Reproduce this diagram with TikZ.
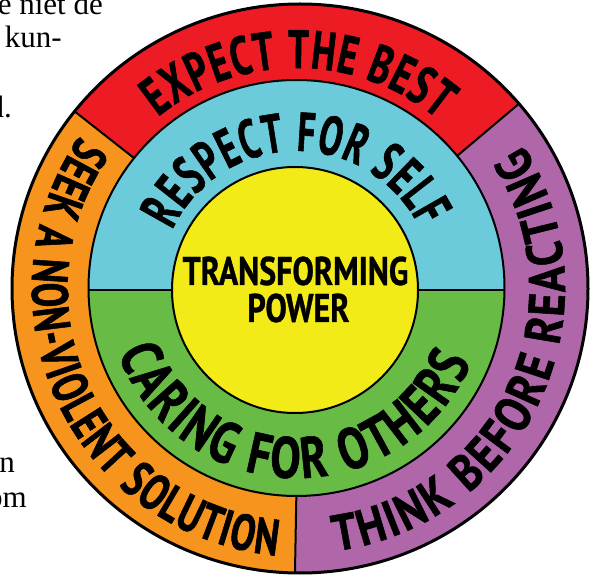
\documentclass[tikz,border=0pt]{standalone}
\usepackage{fontspec}
\setmainfont{Liberation Serif}
\usetikzlibrary{decorations.text}
\newfontfamily\ringA{PT Sans Bold}[FakeStretch=0.68,FakeBold=1]
\newfontfamily\ringB{PT Sans Bold}[FakeStretch=0.64,FakeBold=1]
\newfontfamily\ringC{PT Sans Bold}[FakeStretch=0.78,FakeBold=1]
\newfontfamily\ringD{PT Sans Bold}[FakeStretch=0.72,FakeBold=1]
\newfontfamily\ringE{PT Sans Bold}[FakeStretch=0.85,FakeBold=1]
\newfontfamily\centerfont{PT Sans Bold}[FakeStretch=0.8,FakeBold=0.8]
\definecolor{ringred}{RGB}{237,28,36}
\definecolor{ringorange}{RGB}{247,148,29}
\definecolor{ringpurple}{RGB}{176,103,170}
\definecolor{ringblue}{RGB}{108,203,218}
\definecolor{ringgreen}{RGB}{104,188,70}
\definecolor{ringyellow}{RGB}{243,235,23}
\tikzset{
  outerline/.style={line width=3pt, draw=black},
  innerline/.style={line width=2pt, draw=black},
  ringtext/.style={decorate, decoration={text along path, text align={fit to path}, text={#1}}},
  fragment/.style={anchor=base east, inner sep=0pt, font=\fontsize{31}{31}\selectfont},
  centertext/.style={anchor=base, inner sep=0pt, font=\centerfont\fontsize{40}{40}\selectfont}
}
\begin{document}
\begin{tikzpicture}[x=1pt,y=1pt]
\useasboundingbox (0,0) rectangle (595,579);
\clip (0,0) rectangle (595,579);
\coordinate (O) at (300,290.5);
\coordinate (M) at (296.5,291);
\coordinate (Y) at (295,289);
% outer ring sectors
\fill[ringorange] (O) ellipse[x radius=288, y radius=284.5];
\fill[ringred] (O) -- ([shift={(40.5:288 and 284.5)}]O) arc[start angle=40.5, end angle=141.5, x radius=288, y radius=284.5] -- cycle;
\fill[ringpurple] (O) -- ([shift={(-91:288 and 284.5)}]O) arc[start angle=-91, end angle=40.5, x radius=288, y radius=284.5] -- cycle;
\coordinate (d1) at ([shift={(141.5:288 and 284.5)}]O);
\coordinate (d2) at ([shift={(40.5:288 and 284.5)}]O);
\coordinate (d3) at ([shift={(-91:288 and 284.5)}]O);
\draw[innerline] (O) -- (d1);
\draw[innerline] (O) -- (d2);
\draw[innerline] (O) -- (d3);
\draw[outerline] (O) ellipse[x radius=288, y radius=284.5];
% middle ring
\fill[ringblue] (M) circle[radius=208];
\begin{scope}
  \clip (0,0) rectangle (595,289);
  \fill[ringgreen] (M) circle[radius=208];
\end{scope}
\coordinate (hl) at (88.5,289);
\coordinate (hr) at (504.5,289);
\draw[innerline] (hl) -- (hr);
\draw[innerline] (M) circle[radius=208];
% centre
\filldraw[innerline, fill=ringyellow] (Y) circle[radius=123];
% ring texts
\path[ringtext={|\ringA\fontsize{54}{54}\selectfont|EXPECT THE BEST}]
  ([shift={(129:220)}]M) arc[start angle=129, end angle=50, radius=220];
\path[ringtext={|\ringB\fontsize{55}{55}\selectfont|RESPECT FOR SELF}]
  ([shift={(155:137)}]M) arc[start angle=155, end angle=26, radius=137];
\path[ringtext={|\ringC\fontsize{58}{58}\selectfont|CARING FOR OTHERS}]
  ([shift={(200:190)}]M) arc[start angle=200, end angle=337, radius=190];
\path[ringtext={|\ringD\fontsize{51}{51}\selectfont|SEEK A NON-VIOLENT SOLUTION}]
  ([shift={(145.3:268)}]O) arc[start angle=145.3, end angle=265, radius=268];
\path[ringtext={|\ringE\fontsize{51}{51}\selectfont|THINK BEFORE REACTING}]
  ([shift={(277.7:265)}]O) arc[start angle=277.7, end angle=392.7, radius=265];
% centre text
\node[centertext] (tp1) at (295.5,294) {TRANSFORMING};
\node[centertext] (tp2) at (298.5,257) {POWER};
% page fragments
\node[fragment] (f1) at (103,564) {e niet de};
\node[fragment] (f2) at (62,531) {n kun-};
\node[fragment] (f3) at (12,461) {d.};
\node[fragment] (f4) at (15,106) {n};
\node[fragment] (f5) at (27,71) {om};
\end{tikzpicture}
\end{document}
